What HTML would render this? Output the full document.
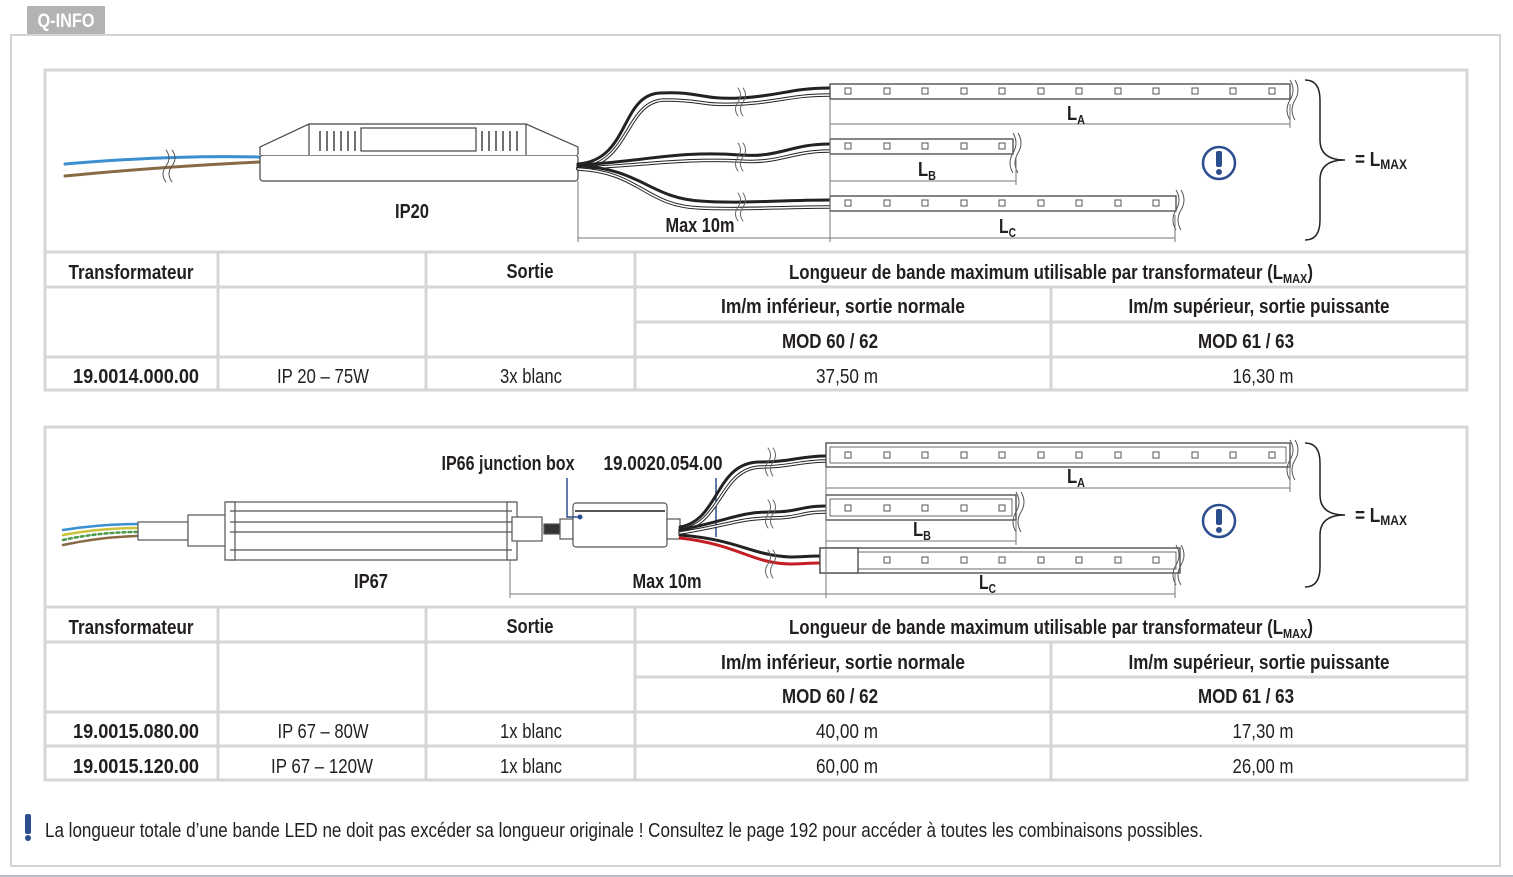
<!DOCTYPE html>
<html><head><meta charset="utf-8"><style>
body{margin:0;background:#fff}
svg{display:block}
text{font-family:"Liberation Sans Narrow","Liberation Sans",sans-serif;fill:#231f20}
.h{font-size:20px;font-weight:bold}
.n{font-size:20px}
.c{text-anchor:middle}
</style></head><body>
<svg width="1513" height="877" viewBox="0 0 1513 877" xmlns="http://www.w3.org/2000/svg">
<rect x="27" y="6" width="78" height="28" fill="#b3b3b3"/>
<text x="66" y="27" class="h c" style="fill:#fff;font-size:19px" textLength="57" lengthAdjust="spacingAndGlyphs">Q-INFO</text>
<rect x="11" y="35" width="1489" height="831" fill="none" stroke="#d4d4d4" stroke-width="2"/>
<line x1="0" y1="876" x2="1513" y2="876" stroke="#b8bfc8" stroke-width="2"/>

<!-- PANEL 1 -->
<g fill="none" stroke="#d6d6d6" stroke-width="3">
<rect x="45" y="70" width="1422" height="320"/>
<line x1="45" y1="252" x2="1467" y2="252"/>
<line x1="45" y1="287" x2="1467" y2="287"/>
<line x1="635" y1="322" x2="1467" y2="322"/>
<line x1="45" y1="357" x2="1467" y2="357"/>
<line x1="218" y1="252" x2="218" y2="390"/>
<line x1="426" y1="252" x2="426" y2="390"/>
<line x1="635" y1="252" x2="635" y2="390"/>
<line x1="1051" y1="287" x2="1051" y2="390"/>
</g>
<text x="131" y="279" class="h c" textLength="125" lengthAdjust="spacingAndGlyphs">Transformateur</text>
<text x="530" y="278" class="h c" textLength="47" lengthAdjust="spacingAndGlyphs">Sortie</text>
<text x="1051" y="279" class="h c" textLength="524" lengthAdjust="spacingAndGlyphs">Longueur de bande maximum utilisable par transformateur (L<tspan font-size="13" dy="4">MAX</tspan><tspan dy="-4">)</tspan></text>
<text x="843" y="313" class="h c" textLength="244" lengthAdjust="spacingAndGlyphs">Im/m inférieur, sortie normale</text>
<text x="1259" y="313" class="h c" textLength="261" lengthAdjust="spacingAndGlyphs">Im/m supérieur, sortie puissante</text>
<text x="830" y="348" class="h c" textLength="96" lengthAdjust="spacingAndGlyphs">MOD 60 / 62</text>
<text x="1246" y="348" class="h c" textLength="96" lengthAdjust="spacingAndGlyphs">MOD 61 / 63</text>
<text x="136" y="383" class="h c" textLength="126" lengthAdjust="spacingAndGlyphs">19.0014.000.00</text>
<text x="323" y="383" class="n c" textLength="92" lengthAdjust="spacingAndGlyphs">IP 20 – 75W</text>
<text x="531" y="383" class="n c" textLength="62" lengthAdjust="spacingAndGlyphs">3x blanc</text>
<text x="847" y="383" class="n c" textLength="62" lengthAdjust="spacingAndGlyphs">37,50 m</text>
<text x="1263" y="383" class="n c" textLength="61" lengthAdjust="spacingAndGlyphs">16,30 m</text>

<!-- diagram 1 -->
<g fill="none" stroke-linecap="round">
<path d="M65 164 Q170 155 260 157" stroke="#3a8fd0" stroke-width="3"/>
<path d="M65 176 Q170 166 260 162" stroke="#8a6a45" stroke-width="3"/>
<path d="M166 150 q6 8 0 16 q-6 8 0 16 M172 150 q6 8 0 16 q-6 8 0 16" stroke="#555" stroke-width="1"/>
</g>
<g fill="#fff" stroke="#444" stroke-width="1.2">
<rect x="260" y="155" width="318" height="26" rx="3"/>
<path d="M260 155 V147 L309 124 H526 L578 147 V155"/>
<line x1="309" y1="124" x2="309" y2="155"/><line x1="526" y1="124" x2="526" y2="155"/>
<rect x="361" y="128" width="115" height="23"/>
<path d="M320 131v20M327 131v20M334 131v20M341 131v20M348 131v20M355 131v20M482 131v20M489 131v20M496 131v20M503 131v20M510 131v20M517 131v20" stroke-width="1.5"/>
</g>
<text x="412" y="218" class="h c" textLength="34" lengthAdjust="spacingAndGlyphs">IP20</text>
<g fill="none" stroke-linecap="round">
<path d="M578 164 C630 160 620 95 660 93 C700 91 700 100 740 98 C780 96 790 88 830 88" stroke="#222" stroke-width="3"/>
<path d="M578 168 C630 166 625 100 665 100 C705 100 700 106 740 104 C780 102 790 95 830 95" stroke="#222" stroke-width="3.5"/><path d="M578 168 C630 166 625 100 665 100 C705 100 700 106 740 104 C780 102 790 95 830 95" stroke="#fff" stroke-width="1.5"/>
<path d="M578 165 C640 162 680 150 740 155 C780 158 790 144 830 144" stroke="#222" stroke-width="3"/>
<path d="M578 168 C640 166 680 158 740 161 C780 164 790 151 830 151" stroke="#222" stroke-width="3.5"/><path d="M578 168 C640 166 680 158 740 161 C780 164 790 151 830 151" stroke="#fff" stroke-width="1.5"/>
<path d="M578 166 C640 168 650 198 700 201 C740 204 780 200 830 200" stroke="#222" stroke-width="3"/>
<path d="M578 169 C640 172 645 206 700 208 C740 210 780 207 830 207" stroke="#222" stroke-width="3.5"/><path d="M578 169 C640 172 645 206 700 208 C740 210 780 207 830 207" stroke="#fff" stroke-width="1.5"/>
<path d="M738 88 q5 7 0 14 q-5 7 0 14 M743 88 q5 7 0 14 q-5 7 0 14 M738 143 q5 7 0 14 q-5 7 0 14 M743 143 q5 7 0 14 q-5 7 0 14 M738 193 q5 7 0 14 q-5 7 0 14 M743 193 q5 7 0 14 q-5 7 0 14" stroke="#666" stroke-width="1"/>
</g>
<g fill="#fff" stroke="#444" stroke-width="1.3">
<rect x="830" y="84" width="460" height="15"/><rect x="830" y="139" width="183" height="15"/><rect x="830" y="196" width="346" height="15"/>
</g>
<g fill="none" stroke="#555" stroke-width="1">
<path d="M1290 80 q6 10 0 20 q-6 10 0 20 M1295 80 q6 10 0 20 q-6 10 0 20 M1013 133 q6 10 0 20 q-6 10 0 20 M1018 133 q6 10 0 20 q-6 10 0 20 M1176 190 q6 10 0 20 q-6 10 0 20 M1181 190 q6 10 0 20 q-6 10 0 20"/>
<rect x="845" y="88" width="6" height="6"/><rect x="884" y="88" width="6" height="6"/><rect x="922" y="88" width="6" height="6"/><rect x="961" y="88" width="6" height="6"/><rect x="999" y="88" width="6" height="6"/><rect x="1038" y="88" width="6" height="6"/><rect x="1076" y="88" width="6" height="6"/><rect x="1115" y="88" width="6" height="6"/><rect x="1153" y="88" width="6" height="6"/><rect x="1192" y="88" width="6" height="6"/><rect x="1230" y="88" width="6" height="6"/><rect x="1269" y="88" width="6" height="6"/>
<rect x="845" y="143" width="6" height="6"/><rect x="884" y="143" width="6" height="6"/><rect x="922" y="143" width="6" height="6"/><rect x="961" y="143" width="6" height="6"/><rect x="999" y="143" width="6" height="6"/>
<rect x="845" y="200" width="6" height="6"/><rect x="884" y="200" width="6" height="6"/><rect x="922" y="200" width="6" height="6"/><rect x="961" y="200" width="6" height="6"/><rect x="999" y="200" width="6" height="6"/><rect x="1038" y="200" width="6" height="6"/><rect x="1076" y="200" width="6" height="6"/><rect x="1115" y="200" width="6" height="6"/><rect x="1153" y="200" width="6" height="6"/>
<path d="M830 124H1290M1290 104V128M830 181H1016M1016 158V185M830 238H1175M1175 215V242M578 238H830M578 181V242M830 100V242" stroke="#777"/>
<path d="M1305 80 q15 0 15 20 v40 q0 20 25 20 q-25 0 -25 20 v40 q0 20 -15 20" stroke="#222" stroke-width="1.5"/>
<circle cx="1219" cy="163" r="16" stroke="#2d4e8e" stroke-width="2.5"/>
</g>
<rect x="1216" y="151" width="6" height="16" rx="2" fill="#2d4e8e"/><circle cx="1219" cy="172" r="3" fill="#2d4e8e"/>
<text x="1067" y="120" class="h" textLength="18" lengthAdjust="spacingAndGlyphs">L<tspan font-size="13" dy="4">A</tspan></text>
<text x="918" y="176" class="h" textLength="18" lengthAdjust="spacingAndGlyphs">L<tspan font-size="13" dy="4">B</tspan></text>
<text x="999" y="233" class="h" textLength="17" lengthAdjust="spacingAndGlyphs">L<tspan font-size="13" dy="4">C</tspan></text>
<text x="700" y="232" class="h c" textLength="69" lengthAdjust="spacingAndGlyphs">Max 10m</text>
<text x="1355" y="166" class="h" textLength="52" lengthAdjust="spacingAndGlyphs">= L<tspan font-size="14" dy="3">MAX</tspan></text>

<!-- PANEL 2 -->
<g fill="none" stroke="#d6d6d6" stroke-width="3">
<rect x="45" y="427" width="1422" height="353"/>
<line x1="45" y1="607" x2="1467" y2="607"/>
<line x1="45" y1="642" x2="1467" y2="642"/>
<line x1="635" y1="677" x2="1467" y2="677"/>
<line x1="45" y1="712" x2="1467" y2="712"/>
<line x1="45" y1="746" x2="1467" y2="746"/>
<line x1="218" y1="607" x2="218" y2="780"/>
<line x1="426" y1="607" x2="426" y2="780"/>
<line x1="635" y1="607" x2="635" y2="780"/>
<line x1="1051" y1="642" x2="1051" y2="780"/>
</g>
<text x="131" y="634" class="h c" textLength="125" lengthAdjust="spacingAndGlyphs">Transformateur</text>
<text x="530" y="633" class="h c" textLength="47" lengthAdjust="spacingAndGlyphs">Sortie</text>
<text x="1051" y="634" class="h c" textLength="524" lengthAdjust="spacingAndGlyphs">Longueur de bande maximum utilisable par transformateur (L<tspan font-size="13" dy="4">MAX</tspan><tspan dy="-4">)</tspan></text>
<text x="843" y="669" class="h c" textLength="244" lengthAdjust="spacingAndGlyphs">Im/m inférieur, sortie normale</text>
<text x="1259" y="669" class="h c" textLength="261" lengthAdjust="spacingAndGlyphs">Im/m supérieur, sortie puissante</text>
<text x="830" y="703" class="h c" textLength="96" lengthAdjust="spacingAndGlyphs">MOD 60 / 62</text>
<text x="1246" y="703" class="h c" textLength="96" lengthAdjust="spacingAndGlyphs">MOD 61 / 63</text>
<text x="136" y="738" class="h c" textLength="126" lengthAdjust="spacingAndGlyphs">19.0015.080.00</text>
<text x="323" y="738" class="n c" textLength="91" lengthAdjust="spacingAndGlyphs">IP 67 – 80W</text>
<text x="531" y="738" class="n c" textLength="62" lengthAdjust="spacingAndGlyphs">1x blanc</text>
<text x="847" y="738" class="n c" textLength="62" lengthAdjust="spacingAndGlyphs">40,00 m</text>
<text x="1263" y="738" class="n c" textLength="61" lengthAdjust="spacingAndGlyphs">17,30 m</text>
<text x="136" y="773" class="h c" textLength="126" lengthAdjust="spacingAndGlyphs">19.0015.120.00</text>
<text x="322" y="773" class="n c" textLength="102" lengthAdjust="spacingAndGlyphs">IP 67 – 120W</text>
<text x="531" y="773" class="n c" textLength="62" lengthAdjust="spacingAndGlyphs">1x blanc</text>
<text x="847" y="773" class="n c" textLength="62" lengthAdjust="spacingAndGlyphs">60,00 m</text>
<text x="1263" y="773" class="n c" textLength="61" lengthAdjust="spacingAndGlyphs">26,00 m</text>

<!-- diagram 2 -->
<g fill="none" stroke-linecap="round" stroke-width="2.5">
<path d="M63 530 Q100 524 138 524" stroke="#3a8fd0"/>
<path d="M63 535 Q100 528 138 528" stroke="#c9c23a"/>
<path d="M63 540 Q100 532 138 532" stroke="#4a9a4a" stroke-dasharray="3 3"/>
<path d="M63 545 Q100 537 138 536" stroke="#8a6a45"/>
</g>
<g fill="#fff" stroke="#555" stroke-width="1.2">
<rect x="138" y="522" width="50" height="18"/>
<rect x="188" y="515" width="40" height="31"/>
<rect x="230" y="502" width="282" height="58"/>
<path d="M225 502h10v58h-10zM507 502h10v58h-10z"/>
<path d="M230 511H512M230 522H512M230 532H512M230 550H512" />
<rect x="512" y="517" width="30" height="24"/>
<rect x="544" y="524" width="16" height="10" fill="#333"/>
<rect x="560" y="519" width="13" height="20"/>
<rect x="573" y="503" width="94" height="44" rx="3"/>
<line x1="575" y1="511" x2="665" y2="511" stroke-width="2"/>
<rect x="667" y="519" width="13" height="20"/>
</g>
<circle cx="580" cy="517" r="2.5" fill="#2d4e8e"/>
<path d="M567 478V517H578M716 478V537" stroke="#2d4e8e" stroke-width="1.5" fill="none"/>
<text x="508" y="470" class="h c" textLength="133" lengthAdjust="spacingAndGlyphs">IP66 junction box</text>
<text x="663" y="470" class="h c" textLength="119" lengthAdjust="spacingAndGlyphs">19.0020.054.00</text>
<g fill="none" stroke-linecap="round">
<path d="M680 527 C720 520 715 462 760 462 C790 462 800 456 826 456" stroke="#222" stroke-width="3"/>
<path d="M680 530 C722 525 720 467 762 467 C790 467 800 461 826 461" stroke="#222" stroke-width="3.5"/><path d="M680 530 C722 525 720 467 762 467 C790 467 800 461 826 461" stroke="#fff" stroke-width="1.5"/>
<path d="M680 530 C730 520 740 512 770 512 C800 512 800 506 826 506" stroke="#222" stroke-width="3"/>
<path d="M680 533 C730 525 740 518 772 518 C800 518 800 512 826 512" stroke="#222" stroke-width="3.5"/><path d="M680 533 C730 525 740 518 772 518 C800 518 800 512 826 512" stroke="#fff" stroke-width="1.5"/>
<path d="M680 535 C740 540 750 555 790 557 C800 557 810 556 820 556" stroke="#222" stroke-width="3"/>
<path d="M680 538 C740 545 750 563 790 564 C800 564 810 563 820 563" stroke="#c41e24" stroke-width="3"/>
<path d="M768 448 q5 7 0 14 q-5 7 0 14 M773 448 q5 7 0 14 q-5 7 0 14 M768 500 q5 7 0 14 q-5 7 0 14 M773 500 q5 7 0 14 q-5 7 0 14 M768 550 q5 7 0 14 q-5 7 0 14 M773 550 q5 7 0 14 q-5 7 0 14" stroke="#666" stroke-width="1"/>
</g>
<g fill="#fff" stroke="#444" stroke-width="1.3">
<rect x="826" y="443" width="464" height="24"/><rect x="826" y="495" width="190" height="25"/><rect x="820" y="548" width="360" height="25"/>
<rect x="830" y="447" width="456" height="16" stroke-width="0.8"/><rect x="830" y="499" width="182" height="17" stroke-width="0.8"/><rect x="858" y="552" width="318" height="17" stroke-width="0.8"/>
<rect x="820" y="548" width="38" height="25"/>
</g>
<g fill="none" stroke="#555" stroke-width="1">
<path d="M1290 440 q6 10 0 20 q-6 10 0 20 M1295 440 q6 10 0 20 q-6 10 0 20 M1016 492 q6 10 0 20 q-6 10 0 20 M1021 492 q6 10 0 20 q-6 10 0 20 M1176 545 q6 10 0 20 q-6 10 0 20 M1181 545 q6 10 0 20 q-6 10 0 20"/>
<rect x="845" y="452" width="6" height="6"/><rect x="884" y="452" width="6" height="6"/><rect x="922" y="452" width="6" height="6"/><rect x="961" y="452" width="6" height="6"/><rect x="999" y="452" width="6" height="6"/><rect x="1038" y="452" width="6" height="6"/><rect x="1076" y="452" width="6" height="6"/><rect x="1115" y="452" width="6" height="6"/><rect x="1153" y="452" width="6" height="6"/><rect x="1192" y="452" width="6" height="6"/><rect x="1230" y="452" width="6" height="6"/><rect x="1269" y="452" width="6" height="6"/>
<rect x="845" y="505" width="6" height="6"/><rect x="884" y="505" width="6" height="6"/><rect x="922" y="505" width="6" height="6"/><rect x="961" y="505" width="6" height="6"/><rect x="999" y="505" width="6" height="6"/>
<rect x="884" y="557" width="6" height="6"/><rect x="922" y="557" width="6" height="6"/><rect x="961" y="557" width="6" height="6"/><rect x="999" y="557" width="6" height="6"/><rect x="1038" y="557" width="6" height="6"/><rect x="1076" y="557" width="6" height="6"/><rect x="1115" y="557" width="6" height="6"/><rect x="1153" y="557" width="6" height="6"/>
<path d="M826 488H1290M1290 468V492M826 541H1016M1016 521V545M826 594H1175M1175 574V598M510 594H826M510 560V598M826 468V598" stroke="#777"/>
<path d="M1305 443 q15 0 15 20 v32 q0 20 25 20 q-25 0 -25 20 v32 q0 20 -15 20" stroke="#222" stroke-width="1.5"/>
<circle cx="1219" cy="521" r="16" stroke="#2d4e8e" stroke-width="2.5"/>
</g>
<rect x="1216" y="509" width="6" height="16" rx="2" fill="#2d4e8e"/><circle cx="1219" cy="530" r="3" fill="#2d4e8e"/>
<text x="1067" y="483" class="h" textLength="18" lengthAdjust="spacingAndGlyphs">L<tspan font-size="13" dy="4">A</tspan></text>
<text x="913" y="536" class="h" textLength="18" lengthAdjust="spacingAndGlyphs">L<tspan font-size="13" dy="4">B</tspan></text>
<text x="979" y="589" class="h" textLength="17" lengthAdjust="spacingAndGlyphs">L<tspan font-size="13" dy="4">C</tspan></text>
<text x="371" y="588" class="h c" textLength="34" lengthAdjust="spacingAndGlyphs">IP67</text>
<text x="667" y="588" class="h c" textLength="69" lengthAdjust="spacingAndGlyphs">Max 10m</text>
<text x="1355" y="522" class="h" textLength="52" lengthAdjust="spacingAndGlyphs">= L<tspan font-size="14" dy="3">MAX</tspan></text>

<!-- footer -->
<rect x="25" y="814" width="6" height="20" rx="2" fill="#2d4e8e"/><circle cx="28" cy="838" r="3" fill="#2d4e8e"/>
<text x="45" y="837" class="n" textLength="1158" lengthAdjust="spacingAndGlyphs">La longueur totale d’une bande LED ne doit pas excéder sa longueur originale ! Consultez le page 192 pour accéder à toutes les combinaisons possibles.</text>
</svg>
</body></html>
